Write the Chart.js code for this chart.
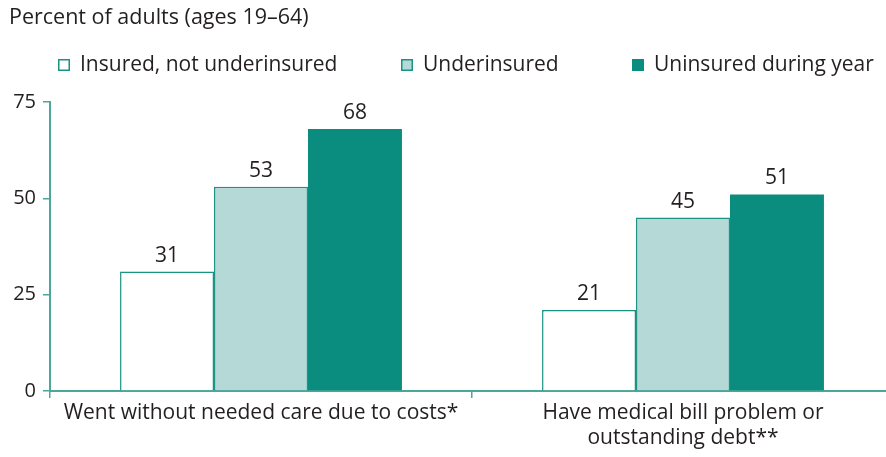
<!DOCTYPE html>
<html>
<head>
<meta charset="utf-8">
<script src="https://cdn.jsdelivr.net/npm/chart.js@4.4.1/dist/chart.umd.min.js"></script>
<style>
  html, body { margin: 0; padding: 0; background: #fff; overflow: hidden; }
  #wrap { width: 900px; height: 457px; }
</style>
</head>
<body>
<div id="wrap"><canvas id="chart"></canvas></div>
<script>
// chart data
const categories = [
  'Went without needed care due to costs*',
  ['Have medical bill problem or', 'outstanding debt**']
];
const seriesNames = ['Insured, not underinsured', 'Underinsured', 'Uninsured during year'];
const insured = [31, 21];
const underinsured = [53, 45];
const uninsured = [68, 51];
const yTicks = [0, 25, 50, 75];

const TEAL = '#0a8c7e';
const LIGHT = '#b5d9d6';
const EDGE = '#1a9383';
const AXIS = '#4aa79b';
const TEXT = '#231f20';
const FONT = '"Open Sans", "Noto Sans", sans-serif';

// title and legend drawn on the canvas
const header = {
  id: 'header',
  afterDraw(chart) {
    const ctx = chart.ctx;
    ctx.save();
    ctx.fillStyle = TEXT;
    ctx.textBaseline = 'middle';
    ctx.font = '21.5px ' + FONT;
    ctx.fillText('Percent of adults (ages 19\u201364)', 9, 18);

    const boxX = [58, 401, 632];
    ctx.font = '21px ' + FONT;
    chart.data.datasets.forEach((ds, i) => {
      ctx.fillStyle = ds.backgroundColor;
      ctx.fillRect(boxX[i], 59, 12, 12);
      ctx.strokeStyle = ds.borderColor;
      ctx.lineWidth = 1.5;
      ctx.strokeRect(boxX[i] + 0.75, 59.75, 10.5, 10.5);
      ctx.fillStyle = TEXT;
      ctx.fillText(ds.label, boxX[i] + 22, 65);
    });
    ctx.restore();
  }
};

// value labels above each bar
const valueLabels = {
  id: 'valueLabels',
  afterDatasetsDraw(chart) {
    const ctx = chart.ctx;
    ctx.save();
    ctx.fillStyle = TEXT;
    ctx.font = '21px ' + FONT;
    ctx.textAlign = 'center';
    ctx.textBaseline = 'middle';
    chart.data.datasets.forEach((ds, i) => {
      chart.getDatasetMeta(i).data.forEach((bar, j) => {
        ctx.fillText(ds.data[j], bar.x, bar.y - 16);
      });
    });
    ctx.restore();
  }
};

new Chart(document.getElementById('chart'), {
  type: 'bar',
  data: {
    labels: categories,
    datasets: [
      { label: seriesNames[0], data: insured, backgroundColor: '#ffffff', borderColor: EDGE, borderWidth: 1.5 },
      { label: seriesNames[1], data: underinsured, backgroundColor: LIGHT, borderColor: EDGE, borderWidth: 1.5 },
      { label: seriesNames[2], data: uninsured, backgroundColor: TEAL, borderColor: TEAL, borderWidth: 0 }
    ]
  },
  options: {
    responsive: true,
    maintainAspectRatio: false,
    animation: false,
    layout: { padding: { top: 102, right: 6, left: 0, bottom: 0 } },
    datasets: {
      bar: { barPercentage: 1, categoryPercentage: 0.668 }
    },
    plugins: {
      legend: { display: false },
      title: { display: false },
      tooltip: { enabled: false }
    },
    scales: {
      y: {
        min: 0,
        max: 75,
        afterBuildTicks(scale) { scale.ticks = yTicks.map(v => ({ value: v })); },
        afterFit(scale) { scale.width = 50; },
        ticks: { color: TEXT, font: { family: FONT, size: 20 }, padding: 7 },
        grid: { drawOnChartArea: false, drawTicks: true, tickLength: 7, color: AXIS, lineWidth: 1.5 },
        border: { color: AXIS, width: 2 }
      },
      x: {
        afterFit(scale) { scale.height = 66; },
        ticks: { color: TEXT, font: { family: FONT, size: 21 }, padding: 2, maxRotation: 0 },
        grid: { offset: true, drawOnChartArea: false, drawTicks: true, tickLength: 7, color: AXIS, lineWidth: 1.5 },
        border: { color: AXIS, width: 2 }
      }
    }
  },
  plugins: [header, valueLabels]
});
</script>
</body>
</html>
